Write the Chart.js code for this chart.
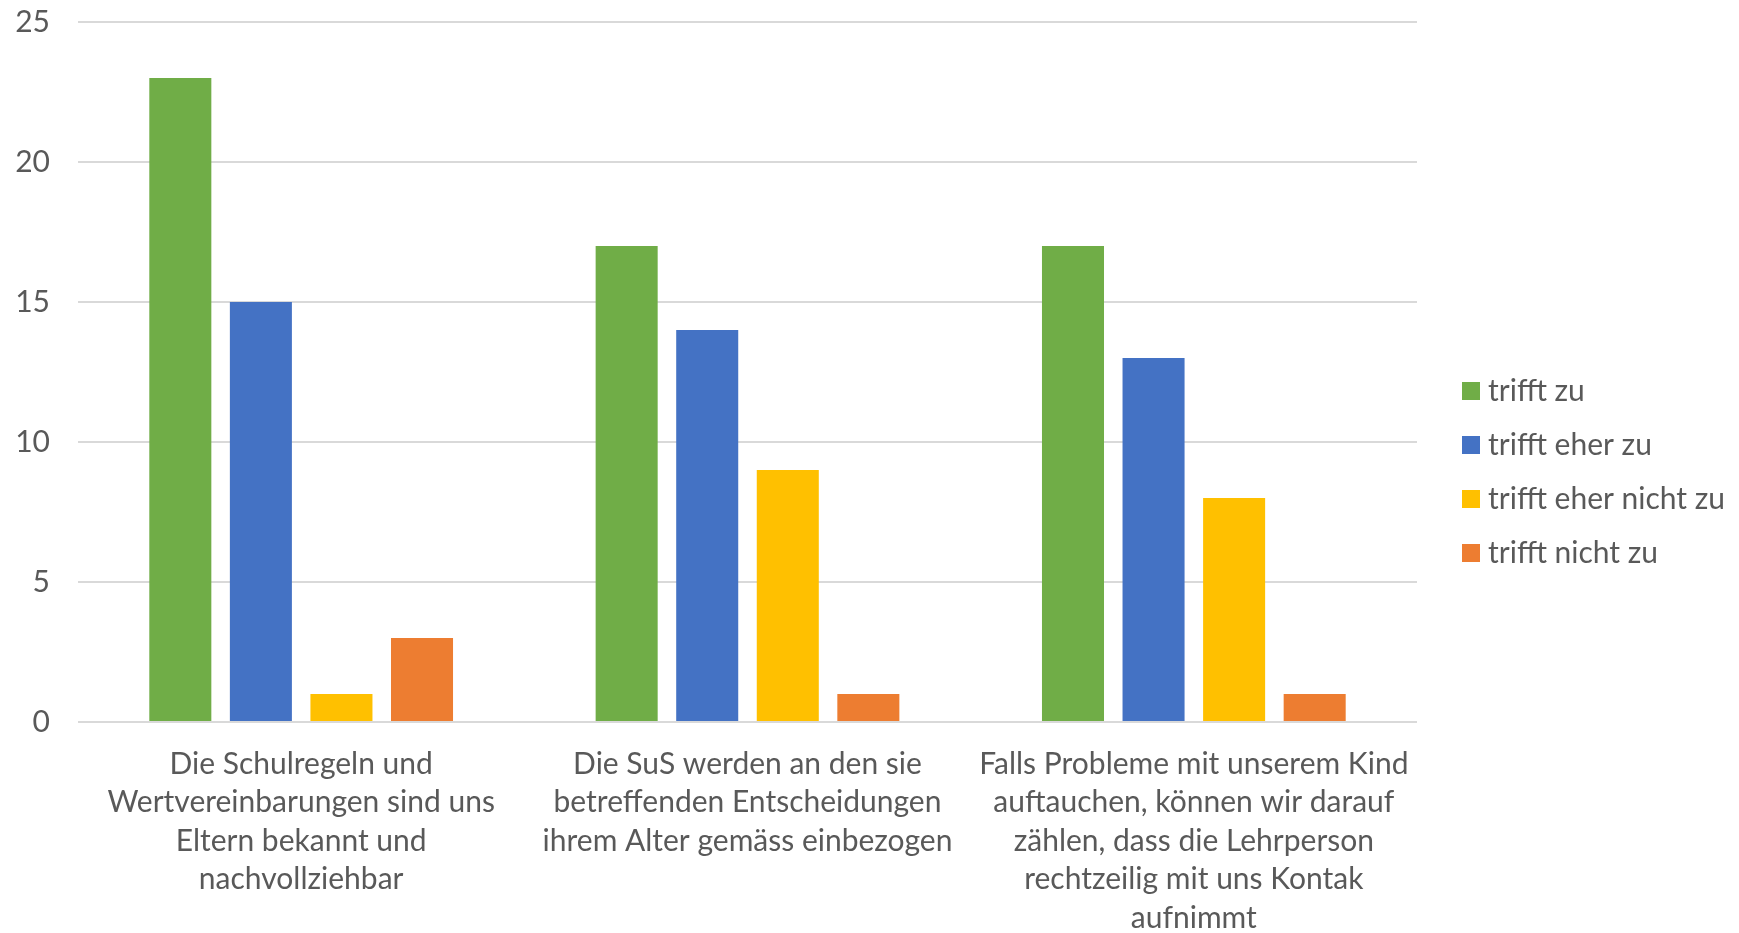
<!DOCTYPE html>
<html>
<head>
<meta charset="utf-8">
<script src="https://cdn.jsdelivr.net/npm/chart.js@4"></script>
<style>
  html, body { margin: 0; padding: 0; background: #ffffff; }
  #wrap { width: 1739px; height: 933px; position: relative; }
</style>
</head>
<body>
<div id="wrap"><canvas id="c"></canvas></div>
<script>
const categories = [
  ["Die Schulregeln und", "Wertvereinbarungen sind uns", "Eltern bekannt und", "nachvollziehbar"],
  ["Die SuS werden an den sie", "betreffenden Entscheidungen", "ihrem Alter gemäss einbezogen"],
  ["Falls Probleme mit unserem Kind", "auftauchen, können wir darauf", "zählen, dass die Lehrperson", "rechtzeilig mit uns Kontak", "aufnimmt"]
];
const seriesNames = ["trifft zu", "trifft eher zu", "trifft eher nicht zu", "trifft nicht zu"];
const trifftZu = [23, 17, 17];
const trifftEherZu = [15, 14, 13];
const trifftEherNichtZu = [1, 9, 8];
const trifftNichtZu = [3, 1, 1];
const seriesColors = ["#70ad47", "#4472c4", "#ffc000", "#ed7d31"];
const yTicks = [0, 5, 10, 15, 20, 25];

const FONT = "Lato, 'Open Sans', sans-serif";
const TEXT = "#595959";
const FS = 30;

const customLegend = {
  id: 'customLegend',
  afterDraw(chart) {
    const ctx = chart.ctx;
    const ds = chart.data.datasets;
    const step = 54;
    const startY = 391;
    ctx.save();
    ctx.font = FS + "px " + FONT;
    ctx.textBaseline = 'middle';
    ctx.textAlign = 'left';
    ds.forEach((d, i) => {
      const cy = startY + i * step;
      ctx.fillStyle = d.backgroundColor;
      ctx.fillRect(1462, cy - 9, 18, 18);
      ctx.fillStyle = TEXT;
      ctx.fillText(d.label, 1488, cy);
    });
    ctx.restore();
  }
};

const seriesValues = [trifftZu, trifftEherZu, trifftEherNichtZu, trifftNichtZu];

new Chart(document.getElementById('c'), {
  type: 'bar',
  data: {
    labels: categories,
    datasets: seriesNames.map((name, i) => ({
      label: name,
      data: seriesValues[i],
      backgroundColor: seriesColors[i],
      borderWidth: 0,
      categoryPercentage: 0.722,
      barPercentage: 0.77
    }))
  },
  options: {
    responsive: true,
    maintainAspectRatio: false,
    animation: false,
    devicePixelRatio: 1,
    layout: { padding: { left: 0, right: 322, top: 22, bottom: 0 } },
    plugins: {
      legend: { display: false },
      tooltip: { enabled: false }
    },
    scales: {
      x: {
        grid: { display: false, drawTicks: false },
        border: { display: false },
        ticks: {
          color: TEXT,
          font: { family: FONT, size: FS, lineHeight: 1.283 },
          padding: 23,
          maxRotation: 0,
          autoSkip: false
        },
        afterFit(scale) { scale.height = 211; }
      },
      y: {
        min: 0,
        max: 25,
        afterBuildTicks(scale) { scale.ticks = yTicks.map(v => ({ value: v })); },
        grid: { color: '#d9d9d9', lineWidth: 2, drawTicks: false },
        border: { display: false },
        ticks: {
          color: TEXT,
          font: { family: FONT, size: FS },
          padding: 28
        },
        afterFit(scale) {
          scale.width = 78;
          scale.paddingTop = 0;
          scale.paddingBottom = 0;
        }
      }
    }
  },
  plugins: [customLegend]
});
</script>
</body>
</html>
